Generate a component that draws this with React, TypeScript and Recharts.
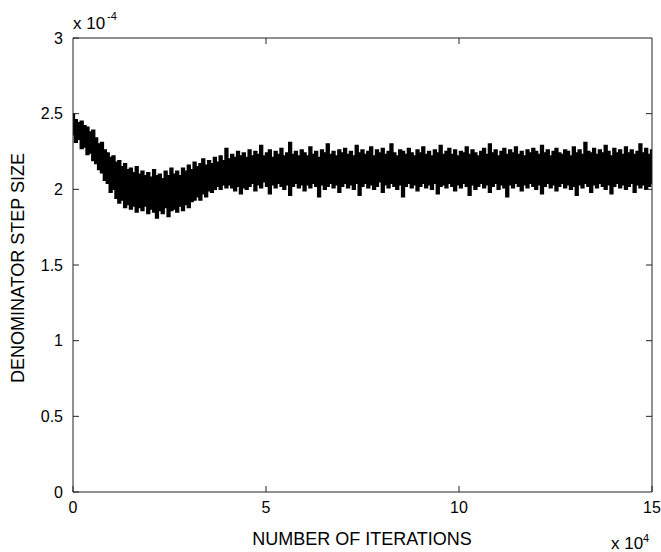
import React from 'react';
import { AreaChart, Area, XAxis, YAxis } from 'recharts';

const FONT = '"Liberation Sans", Arial, Helvetica, sans-serif';

const xTicks = [0, 5, 10, 15];
const yTicks = [0, 0.5, 1, 1.5, 2, 2.5, 3];
const X_MAX = 15;
const Y_MAX = 3;

// samples every 750 iterations (0.075 x 10^4)
const SAMPLE_STEP = 0.075;

// upper edge of the noisy band (x 10^-4)
const upperEdge = [
  2.50, 2.46, 2.44, 2.45, 2.42, 2.41, 2.38, 2.39, 2.34, 2.30, 2.31, 2.26, 2.24, 2.21, 2.22, 2.18, 2.19, 2.15, 2.17, 2.13, 2.14,
  2.11, 2.15, 2.10, 2.12, 2.09, 2.11, 2.08, 2.13, 2.09, 2.10,
  2.07, 2.12, 2.09, 2.14, 2.10, 2.12, 2.09, 2.14, 2.12, 2.16,
  2.13, 2.18, 2.15, 2.17, 2.20, 2.16, 2.19, 2.17, 2.21, 2.18,
  2.22, 2.19, 2.27, 2.20, 2.23, 2.21, 2.25, 2.22, 2.24, 2.21,
  2.26, 2.22, 2.25, 2.23, 2.29, 2.22, 2.24, 2.26, 2.21, 2.25,
  2.23, 2.27, 2.22, 2.24, 2.31, 2.23, 2.25, 2.22, 2.26, 2.24,
  2.22, 2.28, 2.23, 2.25, 2.21, 2.26, 2.24, 2.30, 2.23, 2.25,
  2.22, 2.26, 2.24, 2.27, 2.23, 2.25, 2.22, 2.29, 2.24, 2.26,
  2.23, 2.25, 2.28, 2.22, 2.26, 2.24, 2.27, 2.23, 2.25, 2.30,
  2.24, 2.22, 2.26, 2.25, 2.23, 2.27, 2.24, 2.22, 2.26, 2.24,
  2.28, 2.23, 2.25, 2.22, 2.26, 2.24, 2.29, 2.23, 2.25, 2.27,
  2.23, 2.26, 2.22, 2.25, 2.24, 2.28, 2.23, 2.26, 2.24, 2.22,
  2.25, 2.27, 2.23, 2.30, 2.24, 2.26, 2.22, 2.25, 2.27, 2.23,
  2.26, 2.24, 2.28, 2.23, 2.25, 2.22, 2.26, 2.24, 2.27, 2.25,
  2.23, 2.29, 2.24, 2.26, 2.22, 2.25, 2.27, 2.24, 2.23, 2.26,
  2.25, 2.22, 2.28, 2.24, 2.26, 2.23, 2.31, 2.25, 2.24, 2.27,
  2.23, 2.26, 2.24, 2.29, 2.25, 2.22, 2.27, 2.24, 2.26, 2.23,
  2.28, 2.24, 2.26, 2.23, 2.25, 2.30, 2.24, 2.27, 2.23, 2.26,
];

// lower edge of the noisy band (x 10^-4)
const lowerEdge = [
  2.36, 2.31, 2.33, 2.27, 2.28, 2.23, 2.24, 2.19, 2.17, 2.13, 2.11, 2.06, 2.04, 1.98, 2.00, 1.94, 1.91, 1.93, 1.88, 1.90, 1.87,
  1.89, 1.85, 1.88, 1.86, 1.89, 1.84, 1.87, 1.85, 1.81, 1.86,
  1.84, 1.88, 1.82, 1.86, 1.87, 1.85, 1.89, 1.86, 1.90, 1.88,
  1.92, 1.93, 1.95, 1.93, 1.97, 1.95, 1.99, 1.98, 2.00, 2.02,
  2.00, 2.03, 2.01, 2.03, 2.01, 1.99, 2.02, 1.97, 2.01, 2.00,
  2.02, 2.04, 1.99, 2.03, 2.01, 2.05, 2.02, 1.97, 2.03, 2.01,
  2.04, 2.02, 2.00, 2.03, 1.96, 2.02, 2.04, 2.01, 2.03, 1.99,
  2.03, 2.01, 2.04, 2.02, 1.95, 2.03, 2.00, 2.02, 2.04, 2.01,
  2.03, 1.98, 2.02, 2.04, 2.01, 2.03, 2.00, 2.04, 1.96, 2.02,
  2.04, 2.01, 2.03, 2.00, 2.02, 2.05, 1.98, 2.03, 2.01, 2.04,
  2.02, 2.00, 2.03, 1.95, 2.02, 2.04, 2.01, 2.03, 1.99, 2.02,
  2.04, 2.01, 2.03, 2.00, 2.04, 1.97, 2.02, 2.03, 2.01, 2.04,
  2.02, 1.99, 2.03, 2.01, 2.04, 2.02, 1.96, 2.03, 2.00, 2.02,
  2.04, 2.01, 2.03, 1.98, 2.02, 2.04, 2.00, 2.03, 2.01, 1.95,
  2.03, 2.01, 2.04, 2.02, 1.99, 2.03, 2.01, 2.04, 2.02, 2.00,
  2.03, 1.97, 2.02, 2.04, 2.01, 2.03, 1.99, 2.02, 2.04, 2.01,
  2.03, 2.00, 2.02, 1.96, 2.03, 2.01, 2.04, 2.02, 1.98, 2.03,
  2.01, 2.04, 2.02, 2.00, 2.03, 1.97, 2.02, 2.04, 2.01, 2.03,
  2.00, 2.02, 2.04, 1.98, 2.03, 2.01, 2.03, 2.00, 2.02, 2.04,
];

const data = upperEdge.map((u, i) => ({
  x: Math.round(i * SAMPLE_STEP * 1000) / 1000,
  band: [lowerEdge[i], u],
}));

// chart layout (px)
const W = 661;
const H = 552;
const MARGIN = { top: 38, right: 9, bottom: 30, left: 13 };
const Y_AXIS_W = 60;
const X_AXIS_H = 30;
const PLOT_L = MARGIN.left + Y_AXIS_W;
const PLOT_T = MARGIN.top;
const PLOT_W = W - PLOT_L - MARGIN.right;
const PLOT_H = H - PLOT_T - MARGIN.bottom - X_AXIS_H;
const TICK_PX = 6;

const AXIS = '#222';
const tickStyle = { fill: '#000', fontSize: 16, fontFamily: FONT };

export default function App() {
  const frameTopTicks = xTicks.slice(1, -1).map((t) => PLOT_L + (PLOT_W * t) / X_MAX);
  const frameRightTicks = yTicks.slice(1, -1).map((t) => PLOT_T + PLOT_H * (1 - t / Y_MAX));
  return (
    <div style={{ position: 'absolute', left: 0, top: 0, width: W, height: H, background: '#fff' }}>
      <AreaChart width={W} height={H} data={data} margin={MARGIN}>
        <XAxis
          type="number"
          dataKey="x"
          domain={[0, X_MAX]}
          ticks={xTicks}
          orientation="bottom"
          height={X_AXIS_H}
          tickSize={-TICK_PX}
          tickMargin={16}
          stroke={AXIS}
          tick={tickStyle}
        />
        <YAxis
          type="number"
          domain={[0, Y_MAX]}
          ticks={yTicks}
          width={Y_AXIS_W}
          tickSize={-TICK_PX}
          tickMargin={16}
          stroke={AXIS}
          tick={tickStyle}
        />
        <Area
          dataKey="band"
          type="step"
          stroke="#000"
          strokeWidth={1.4}
          fill="#000"
          fillOpacity={1}
          dot={false}
          activeDot={false}
          isAnimationActive={false}
        />
      </AreaChart>
      <svg
        width={W}
        height={H}
        style={{ position: 'absolute', left: 0, top: 0, pointerEvents: 'none' }}
        fontFamily={FONT}
      >
        {/* axes box (top and right sides) with inward ticks */}
        <line x1={PLOT_L} y1={PLOT_T} x2={PLOT_L + PLOT_W} y2={PLOT_T} stroke={AXIS} strokeWidth={1} />
        <line x1={PLOT_L + PLOT_W} y1={PLOT_T} x2={PLOT_L + PLOT_W} y2={PLOT_T + PLOT_H} stroke={AXIS} strokeWidth={1} />
        {frameTopTicks.map((x, i) => (
          <line key={'tt' + i} x1={x} y1={PLOT_T} x2={x} y2={PLOT_T + TICK_PX} stroke={AXIS} strokeWidth={1} />
        ))}
        {frameRightTicks.map((y, i) => (
          <line
            key={'rt' + i}
            x1={PLOT_L + PLOT_W}
            y1={y}
            x2={PLOT_L + PLOT_W - TICK_PX}
            y2={y}
            stroke={AXIS}
            strokeWidth={1}
          />
        ))}
        <text x={73} y={28.5} fontSize={17} fill="#000">x 10</text>
        <text x={107} y={19.5} fontSize={11} fill="#000">-4</text>
        <text x={362} y={545} fontSize={18} fill="#000" textAnchor="middle">NUMBER OF ITERATIONS</text>
        <text x={24} y={268} fontSize={18} fill="#000" textAnchor="middle" transform="rotate(-90 24 268)">
          DENOMINATOR STEP SIZE
        </text>
        <text x={611} y={548.5} fontSize={17} fill="#000">x 10</text>
        <text x={643} y={542} fontSize={11} fill="#000">4</text>
      </svg>
    </div>
  );
}
